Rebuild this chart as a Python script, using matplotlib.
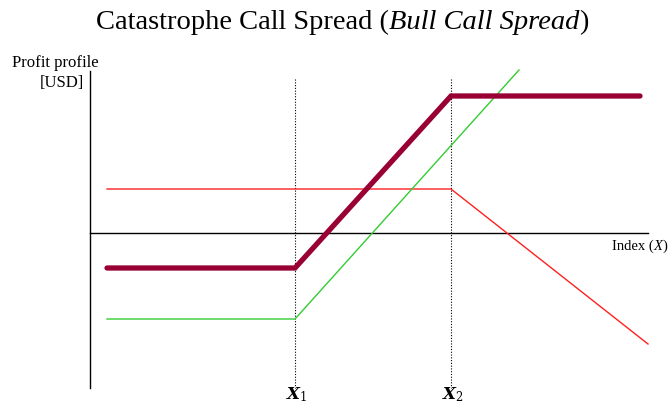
import matplotlib
matplotlib.use("Agg")
import matplotlib.pyplot as plt

# Data (x: index level units, y: profit units; origin at axes crossing)
strikes = [205, 361]                    # X1, X2
strike_labels = [r"$\mathbfit{X}_1$", r"$\mathbfit{X}_2$"]

long_call_x = [17, 205, 429]
long_call_y = [-86, -86, 163]

short_call_x = [17, 361, 558]
short_call_y = [44, 44, -111]

spread_x = [17, 205, 361, 550]
spread_y = [-35, -35, 137, 137]

plt.rcParams['font.family'] = ['Liberation Serif', 'DejaVu Serif']
plt.rcParams['mathtext.fontset'] = 'dejavuserif'

W, H = 669, 407
fig = plt.figure(figsize=(6.69, 4.07), dpi=100)
ax = fig.add_axes([0, 0, 1, 1])
ax.set_xlim(-90, 579)
ax.set_ylim(-174, 233)
ax.axis('off')

# axes lines
ax.plot([0, 0], [162, -155], color='black', lw=1.0)
ax.plot([0, 558], [0, 0], color='black', lw=1.0)

# strike lines
for s in strikes:
    ax.plot([s, s], [154, -155], color='black', lw=0.8, ls=(0, (1, 1.5)))

ax.plot(short_call_x, short_call_y, color='#ff2020', lw=1.0)
ax.plot(long_call_x, long_call_y, color='#33cc33', lw=1.0)
ax.plot(spread_x, spread_y, color='#990033', lw=3.8, solid_capstyle='round',
        solid_joinstyle='miter')

for s, lab in zip(strikes, strike_labels):
    ax.text(s + 2, -162, lab, ha='center', va='center', fontsize=12)

renderer = fig.canvas.get_renderer()


def pieces(parts, y_px, size, x_left=None, x_right=None, x_center=None):
    objs, ws = [], []
    for s, st in parts:
        tt = fig.text(0, 1 - y_px / H, s, fontsize=size, style=st,
                      va='baseline', ha='left')
        ws.append(tt.get_window_extent(renderer).width)
        objs.append(tt)
    total = sum(ws)
    if x_left is not None:
        x0 = x_left
    elif x_right is not None:
        x0 = x_right - total
    else:
        x0 = x_center - total / 2
    for tt, w in zip(objs, ws):
        tt.set_x(x0 / W)
        x0 += w


pieces([("Catastrophe Call Spread (", 'normal'), ("Bull Call Spread", 'italic'),
        (")", 'normal')], 29, 20.5, x_left=96)

fig.text(12 / W, 1 - 67 / H, "Profit profile", ha='left', va='baseline', fontsize=12)
fig.text(84 / W, 1 - 87 / H, "[USD]", ha='right', va='baseline', fontsize=12)

pieces([("Index (", 'normal'), ("X", 'italic'), (")", 'normal')], 250, 10.5,
       x_right=667)

fig.savefig("out.png", dpi=100)
